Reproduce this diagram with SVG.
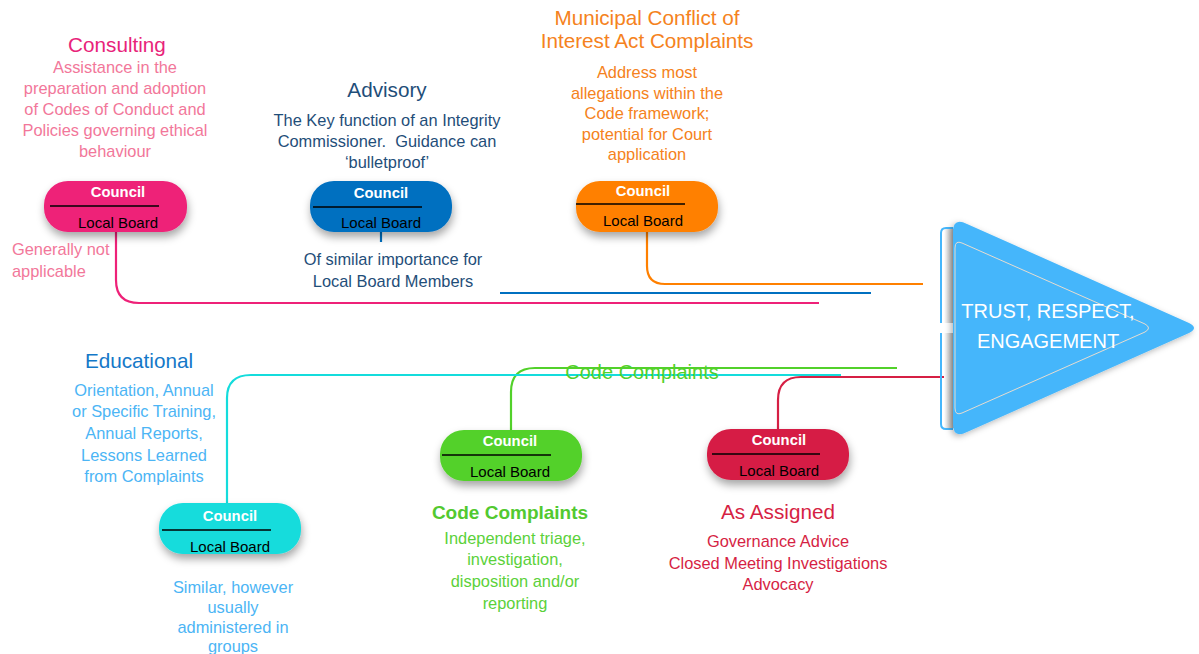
<svg xmlns="http://www.w3.org/2000/svg" width="1199" height="654" viewBox="0 0 1199 654">
<defs>
<filter id="sh" x="-30%" y="-40%" width="160%" height="190%">
<feDropShadow dx="1" dy="5" stdDeviation="4" flood-color="#000" flood-opacity="0.35"/>
</filter>
<filter id="tsh" x="-20%" y="-20%" width="140%" height="140%">
<feDropShadow dx="-2" dy="2" stdDeviation="3" flood-color="#000" flood-opacity="0.3"/>
</filter>
<linearGradient id="gr" x1="0" y1="0" x2="1" y2="0">
<stop offset="0" stop-color="#ffffff"/>
<stop offset="1" stop-color="#a8a8a8"/>
</linearGradient>
</defs>
<style>
text{font-family:"Liberation Sans",Arial,sans-serif;text-anchor:middle}
.t{font-size:20.7px}
.d{font-size:16.4px}
.c{font-size:14.8px;font-weight:bold;fill:#fff}
.lb{font-size:15px;fill:#000}
.dv{stroke:#000;stroke-width:1.3}
.ln{fill:none;stroke-width:2.2}
</style>
<rect width="1199" height="654" fill="#fff"/>

<g id="connectors">
<path class="ln" stroke="#EE2178" d="M116,232 V280 Q116,303 139,303 H819"/>
<path class="ln" stroke="#0070C0" d="M381,232 V242"/>
<path class="ln" stroke="#0070C0" d="M500,293 H871"/>
<path class="ln" stroke="#FF8000" d="M647,232 V266 Q647,284 665,284 H923"/>
<path class="ln" stroke="#52D12A" d="M511,430 V392 Q511,368 535,368 H897"/>
<path class="ln" stroke="#14DCDC" stroke-width="2.5" d="M227,503 V398 Q227,375 251,375 H841"/>
<path class="ln" stroke="#D61F44" d="M778,429 V400 Q778,377 801,377 H949"/>
<text x="642" y="379" style="font-size:20px" fill="#52D12A">Code Complaints</text>
</g>

<g id="consulting">
<text x="117" y="52" class="t" fill="#E8237A">Consulting</text>
<text class="d" fill="#F2779A"><tspan x="115" y="73">Assistance in the</tspan><tspan x="115" y="94">preparation and adoption</tspan><tspan x="115" y="115">of Codes of Conduct and</tspan><tspan x="115" y="136">Policies governing ethical</tspan><tspan x="115" y="157">behaviour</tspan></text>
<rect x="44" y="181" width="143" height="51" rx="24" fill="#EE2178" filter="url(#sh)"/>
<line class="dv" x1="50" y1="206" x2="159" y2="206"/>
<text x="118" y="197" class="c">Council</text>
<text x="118" y="228" class="lb">Local Board</text>
<text class="d" fill="#F2779A" style="text-anchor:start"><tspan x="12" y="255">Generally not</tspan><tspan x="12" y="277">applicable</tspan></text>
</g>

<g id="advisory">
<text x="387" y="97" class="t" fill="#1F4E79">Advisory</text>
<text class="d" fill="#1F4E79" xml:space="preserve"><tspan x="387" y="126">The Key function of an Integrity</tspan><tspan x="387" y="147">Commissioner.  Guidance can</tspan><tspan x="387" y="168">‘bulletproof’</tspan></text>
<rect x="310" y="181" width="142" height="51" rx="24" fill="#0070C0" filter="url(#sh)"/>
<line class="dv" x1="313" y1="207" x2="422" y2="207"/>
<text x="381" y="198" class="c">Council</text>
<text x="381" y="228" class="lb">Local Board</text>
<text class="d" fill="#1F4E79"><tspan x="393" y="265">Of similar importance for</tspan><tspan x="393" y="287">Local Board Members</tspan></text>
</g>

<g id="mcia">
<text class="t" fill="#F58220"><tspan x="647" y="25">Municipal Conflict of</tspan><tspan x="647" y="48">Interest Act Complaints</tspan></text>
<text class="d" fill="#F58220"><tspan x="647" y="78">Address most</tspan><tspan x="647" y="99">allegations within the</tspan><tspan x="647" y="119">Code framework;</tspan><tspan x="647" y="140">potential for Court</tspan><tspan x="647" y="160">application</tspan></text>
<rect x="576" y="181" width="142" height="51" rx="24" fill="#FF8000" filter="url(#sh)"/>
<line class="dv" x1="576" y1="204" x2="685" y2="204"/>
<text x="643" y="196" class="c">Council</text>
<text x="643" y="226" class="lb">Local Board</text>
</g>

<g id="educational">
<text x="139" y="368" class="t" fill="#1478C8">Educational</text>
<text class="d" fill="#4CB5F5"><tspan x="144" y="396">Orientation, Annual</tspan><tspan x="144" y="417">or Specific Training,</tspan><tspan x="144" y="439">Annual Reports,</tspan><tspan x="144" y="461">Lessons Learned</tspan><tspan x="144" y="482">from Complaints</tspan></text>
<rect x="159" y="503" width="142" height="51" rx="24" fill="#14DCDC" filter="url(#sh)"/>
<line class="dv" x1="162" y1="530" x2="271" y2="530"/>
<text x="230" y="521" class="c">Council</text>
<text x="230" y="552" class="lb">Local Board</text>
<text class="d" fill="#4CB5F5"><tspan x="233" y="593">Similar, however</tspan><tspan x="233" y="613">usually</tspan><tspan x="233" y="633">administered in</tspan><tspan x="233" y="652">groups</tspan></text>
</g>

<g id="code">
<rect x="440" y="430" width="142" height="51" rx="24" fill="#52D12A" filter="url(#sh)"/>
<line class="dv" x1="442" y1="455" x2="551" y2="455"/>
<text x="510" y="446" class="c">Council</text>
<text x="510" y="477" class="lb">Local Board</text>
<text x="510" y="519" fill="#52C930" style="font-size:19px;font-weight:bold">Code Complaints</text>
<text class="d" fill="#5BD13A"><tspan x="515" y="544">Independent triage,</tspan><tspan x="515" y="565">investigation,</tspan><tspan x="515" y="587">disposition and/or</tspan><tspan x="515" y="609">reporting</tspan></text>
</g>

<g id="assigned">
<rect x="707" y="429" width="142" height="51" rx="24" fill="#D61F44" filter="url(#sh)"/>
<line class="dv" x1="712" y1="454" x2="820" y2="454"/>
<text x="779" y="445" class="c">Council</text>
<text x="779" y="476" class="lb">Local Board</text>
<text x="778" y="519" class="t" fill="#D61F44">As Assigned</text>
<text class="d" fill="#D61F44"><tspan x="778" y="547">Governance Advice</tspan><tspan x="778" y="569">Closed Meeting Investigations</tspan><tspan x="778" y="590">Advocacy</tspan></text>
</g>

<g id="trust">
<rect x="944" y="229" width="10" height="199" fill="url(#gr)"/>
<rect x="940" y="323" width="15" height="10" fill="#fff"/>
<path d="M953,228 H946 Q941,228 941,233 V323" fill="none" stroke="#45B6FB" stroke-width="2"/>
<path d="M941,333 V424 Q941,429 946,429 H953" fill="none" stroke="#45B6FB" stroke-width="2"/>
<path d="M953,232 Q953,217 967,224 L1189,323 Q1199,328 1189,333 L967,432 Q953,439 953,424 Z" fill="#45B6FB" filter="url(#tsh)"/>
<path d="M955,248 Q955,240 962,243 L1145,324 Q1152,328 1145,332 L962,413 Q955,416 955,408 Z" fill="none" stroke="#E6DCD0" stroke-width="1"/>
<text fill="#fff" style="font-size:20px"><tspan x="1048" y="318">TRUST, RESPECT,</tspan><tspan x="1048" y="348">ENGAGEMENT</tspan></text>
</g>
</svg>
